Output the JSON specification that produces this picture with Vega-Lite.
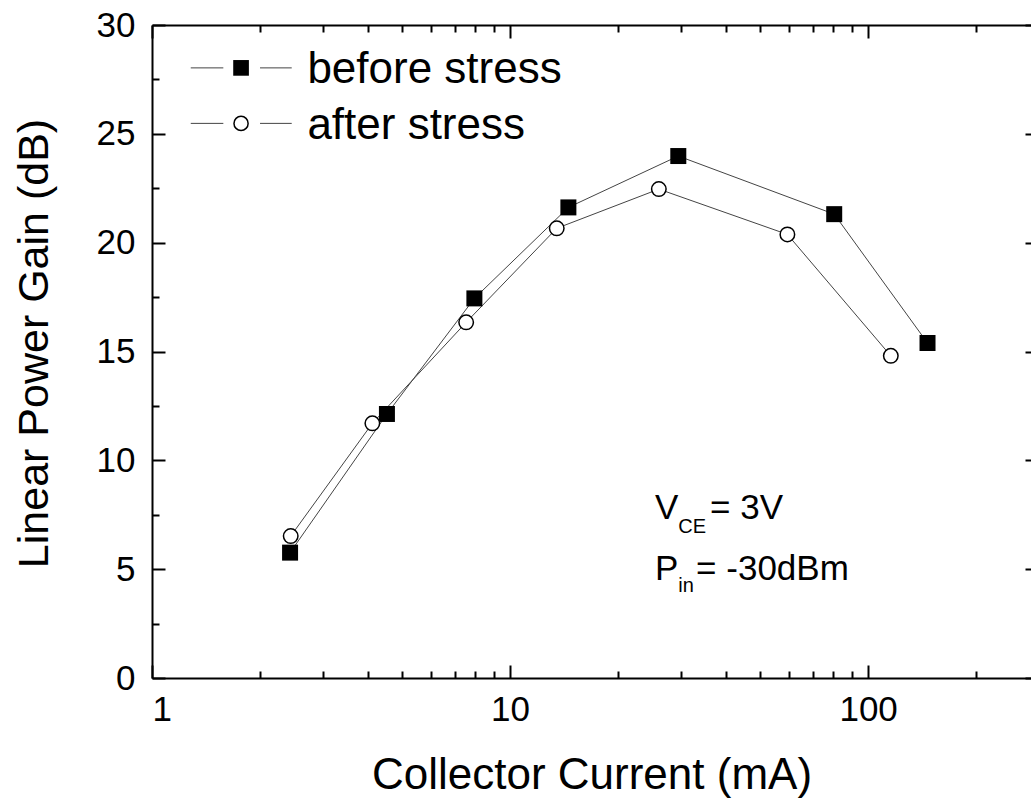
{
  "$schema": "https://vega.github.io/schema/vega-lite/v6.json",
  "width": 879,
  "height": 653,
  "autosize": {"type": "none"},
  "padding": {"left": 152, "top": 25, "right": 0, "bottom": 125},
  "background": "white",
  "config": {
    "view": {"stroke": null},
    "font": "Liberation Sans",
    "axis": {
      "grid": false,
      "labelFont": "Liberation Sans",
      "titleFont": "Liberation Sans",
      "labelColor": "black",
      "titleColor": "black",
      "domainColor": "black",
      "tickColor": "black",
      "domainWidth": 2,
      "tickWidth": 2,
      "labelFontSize": 35,
      "titleFontSize": 44,
      "titleFontWeight": "normal"
    }
  },
  "datasets": {
    "pts": [
      {"series": "before", "current": 2.43, "gain": 5.76},
      {"series": "before", "current": 4.53, "gain": 12.13},
      {"series": "before", "current": 7.95, "gain": 17.44},
      {"series": "before", "current": 14.55, "gain": 21.62},
      {"series": "before", "current": 29.5, "gain": 23.98},
      {"series": "before", "current": 80.4, "gain": 21.31},
      {"series": "before", "current": 146.5, "gain": 15.39},
      {"series": "after", "current": 2.44, "gain": 6.52},
      {"series": "after", "current": 4.125, "gain": 11.7},
      {"series": "after", "current": 7.54, "gain": 16.34},
      {"series": "after", "current": 13.5, "gain": 20.66},
      {"series": "after", "current": 26.03, "gain": 22.46},
      {"series": "after", "current": 59.5, "gain": 20.38},
      {"series": "after", "current": 115.7, "gain": 14.8}
    ],
    "legend": [
      {"series": "before", "label": "before stress", "xl1": 1.283, "xl2": 1.582, "xm": 1.773, "xr1": 2.003, "xr2": 2.456, "xt": 2.716, "y": 28.03, "ytext": 27.32},
      {"series": "after", "label": "after stress", "xl1": 1.283, "xl2": 1.582, "xm": 1.773, "xr1": 2.003, "xr2": 2.456, "xt": 2.716, "y": 25.48, "ytext": 24.76}
    ],
    "annot": [
      {"text": "V", "x": 25.41, "y": 7.29},
      {"text": "= 3V", "x": 36.2, "y": 7.29},
      {"text": "P", "x": 25.41, "y": 4.5},
      {"text": "= -30dBm", "x": 33.08, "y": 4.5}
    ],
    "subs": [
      {"text": "CE", "x": 29.48, "y": 6.66},
      {"text": "in", "x": 29.48, "y": 3.96}
    ]
  },
  "layer": [
    {
      "data": {"name": "pts"},
      "mark": {"type": "line", "stroke": "#444", "strokeWidth": 1},
      "encoding": {
        "x": {"field": "current", "type": "quantitative", "scale": {"type": "log", "domain": [1, 285], "nice": false},
          "axis": {"orient": "bottom", "values": [1, 10, 100], "format": "d", "tickSize": -13, "labelPadding": 27, "domain": true,
            "title": "Collector Current (mA)", "titleY": 110, "titleBaseline": "alphabetic"}},
        "y": {"field": "gain", "type": "quantitative", "scale": {"domain": [0, 30], "nice": false, "zero": false},
          "axis": {"orient": "left", "values": [0, 5, 10, 15, 20, 25, 30], "tickSize": -13, "labelPadding": 30, "domain": true,
            "title": "Linear Power Gain (dB)", "titleFontSize": 43, "titleX": -105, "titleY": 318, "titleBaseline": "alphabetic", "titleAlign": "center"}},
        "detail": {"field": "series"},
        "order": {"field": "current", "type": "quantitative"}
      }
    },
    {
      "data": {"name": "pts"},
      "transform": [{"filter": "datum.series === 'before'"}],
      "mark": {"type": "point", "shape": "square", "filled": true, "color": "black", "size": 256, "opacity": 1},
      "encoding": {
        "x": {"field": "current", "type": "quantitative", "scale": {"type": "log", "domain": [1, 285], "nice": false},
          "axis": {"orient": "bottom", "values": [2, 3, 4, 5, 6, 7, 8, 9, 20, 30, 40, 50, 60, 70, 80, 90, 200], "tickSize": -7, "labels": false, "domain": false, "title": null}},
        "y": {"field": "gain", "type": "quantitative", "scale": {"domain": [0, 30], "nice": false, "zero": false},
          "axis": {"orient": "left", "values": [2.5, 7.5, 12.5, 17.5, 22.5, 27.5], "tickSize": -7, "labels": false, "domain": false, "title": null}}
      }
    },
    {
      "data": {"name": "pts"},
      "transform": [{"filter": "datum.series === 'after'"}],
      "mark": {"type": "point", "shape": "circle", "filled": true, "fill": "white", "stroke": "black", "strokeWidth": 1.5, "size": 210, "opacity": 1},
      "encoding": {
        "x": {"field": "current", "type": "quantitative", "scale": {"type": "log", "domain": [1, 285], "nice": false},
          "axis": {"orient": "top", "values": [1, 10, 100], "tickSize": -13, "labels": false, "domain": true, "title": null}},
        "y": {"field": "gain", "type": "quantitative", "scale": {"domain": [0, 30], "nice": false, "zero": false},
          "axis": {"orient": "right", "values": [0, 5, 10, 15, 20, 25, 30], "tickSize": -6, "labels": false, "domain": false, "title": null}}
      }
    },
    {
      "data": {"name": "legend"},
      "mark": {"type": "rule", "stroke": "#444", "strokeWidth": 1},
      "encoding": {
        "x": {"field": "xl1", "type": "quantitative", "scale": {"type": "log", "domain": [1, 285], "nice": false},
          "axis": {"orient": "top", "values": [2, 3, 4, 5, 6, 7, 8, 9, 20, 30, 40, 50, 60, 70, 80, 90, 200], "tickSize": -7, "labels": false, "domain": false, "title": null}},
        "x2": {"field": "xl2"},
        "y": {"field": "y", "type": "quantitative", "scale": {"domain": [0, 30], "nice": false, "zero": false}, "axis": null}
      }
    },
    {
      "data": {"name": "legend"},
      "mark": {"type": "rule", "stroke": "#444", "strokeWidth": 1},
      "encoding": {
        "x": {"field": "xr1", "type": "quantitative", "scale": {"type": "log", "domain": [1, 285], "nice": false}, "axis": null},
        "x2": {"field": "xr2"},
        "y": {"field": "y", "type": "quantitative", "scale": {"domain": [0, 30], "nice": false, "zero": false}, "axis": null}
      }
    },
    {
      "data": {"name": "legend"},
      "transform": [{"filter": "datum.series === 'before'"}],
      "mark": {"type": "point", "shape": "square", "filled": true, "color": "black", "size": 246, "opacity": 1},
      "encoding": {
        "x": {"field": "xm", "type": "quantitative", "scale": {"type": "log", "domain": [1, 285], "nice": false}, "axis": null},
        "y": {"field": "y", "type": "quantitative", "scale": {"domain": [0, 30], "nice": false, "zero": false}, "axis": null}
      }
    },
    {
      "data": {"name": "legend"},
      "transform": [{"filter": "datum.series === 'after'"}],
      "mark": {"type": "point", "shape": "circle", "filled": true, "fill": "white", "stroke": "black", "strokeWidth": 1.5, "size": 200, "opacity": 1},
      "encoding": {
        "x": {"field": "xm", "type": "quantitative", "scale": {"type": "log", "domain": [1, 285], "nice": false}, "axis": null},
        "y": {"field": "y", "type": "quantitative", "scale": {"domain": [0, 30], "nice": false, "zero": false}, "axis": null}
      }
    },
    {
      "data": {"name": "legend"},
      "mark": {"type": "text", "align": "left", "baseline": "alphabetic", "fontSize": 44, "font": "Liberation Sans", "color": "black"},
      "encoding": {
        "x": {"field": "xt", "type": "quantitative", "scale": {"type": "log", "domain": [1, 285], "nice": false}, "axis": null},
        "y": {"field": "ytext", "type": "quantitative", "scale": {"domain": [0, 30], "nice": false, "zero": false}, "axis": null},
        "text": {"field": "label"}
      }
    },
    {
      "data": {"name": "annot"},
      "mark": {"type": "text", "align": "left", "baseline": "alphabetic", "fontSize": 35, "font": "Liberation Sans", "color": "black"},
      "encoding": {
        "x": {"field": "x", "type": "quantitative", "scale": {"type": "log", "domain": [1, 285], "nice": false}, "axis": null},
        "y": {"field": "y", "type": "quantitative", "scale": {"domain": [0, 30], "nice": false, "zero": false}, "axis": null},
        "text": {"field": "text"}
      }
    },
    {
      "data": {"name": "subs"},
      "mark": {"type": "text", "align": "left", "baseline": "alphabetic", "fontSize": 20, "font": "Liberation Sans", "color": "black"},
      "encoding": {
        "x": {"field": "x", "type": "quantitative", "scale": {"type": "log", "domain": [1, 285], "nice": false}, "axis": null},
        "y": {"field": "y", "type": "quantitative", "scale": {"domain": [0, 30], "nice": false, "zero": false}, "axis": null},
        "text": {"field": "text"}
      }
    }
  ],
  "resolve": {"axis": {"x": "independent", "y": "independent"}}
}
